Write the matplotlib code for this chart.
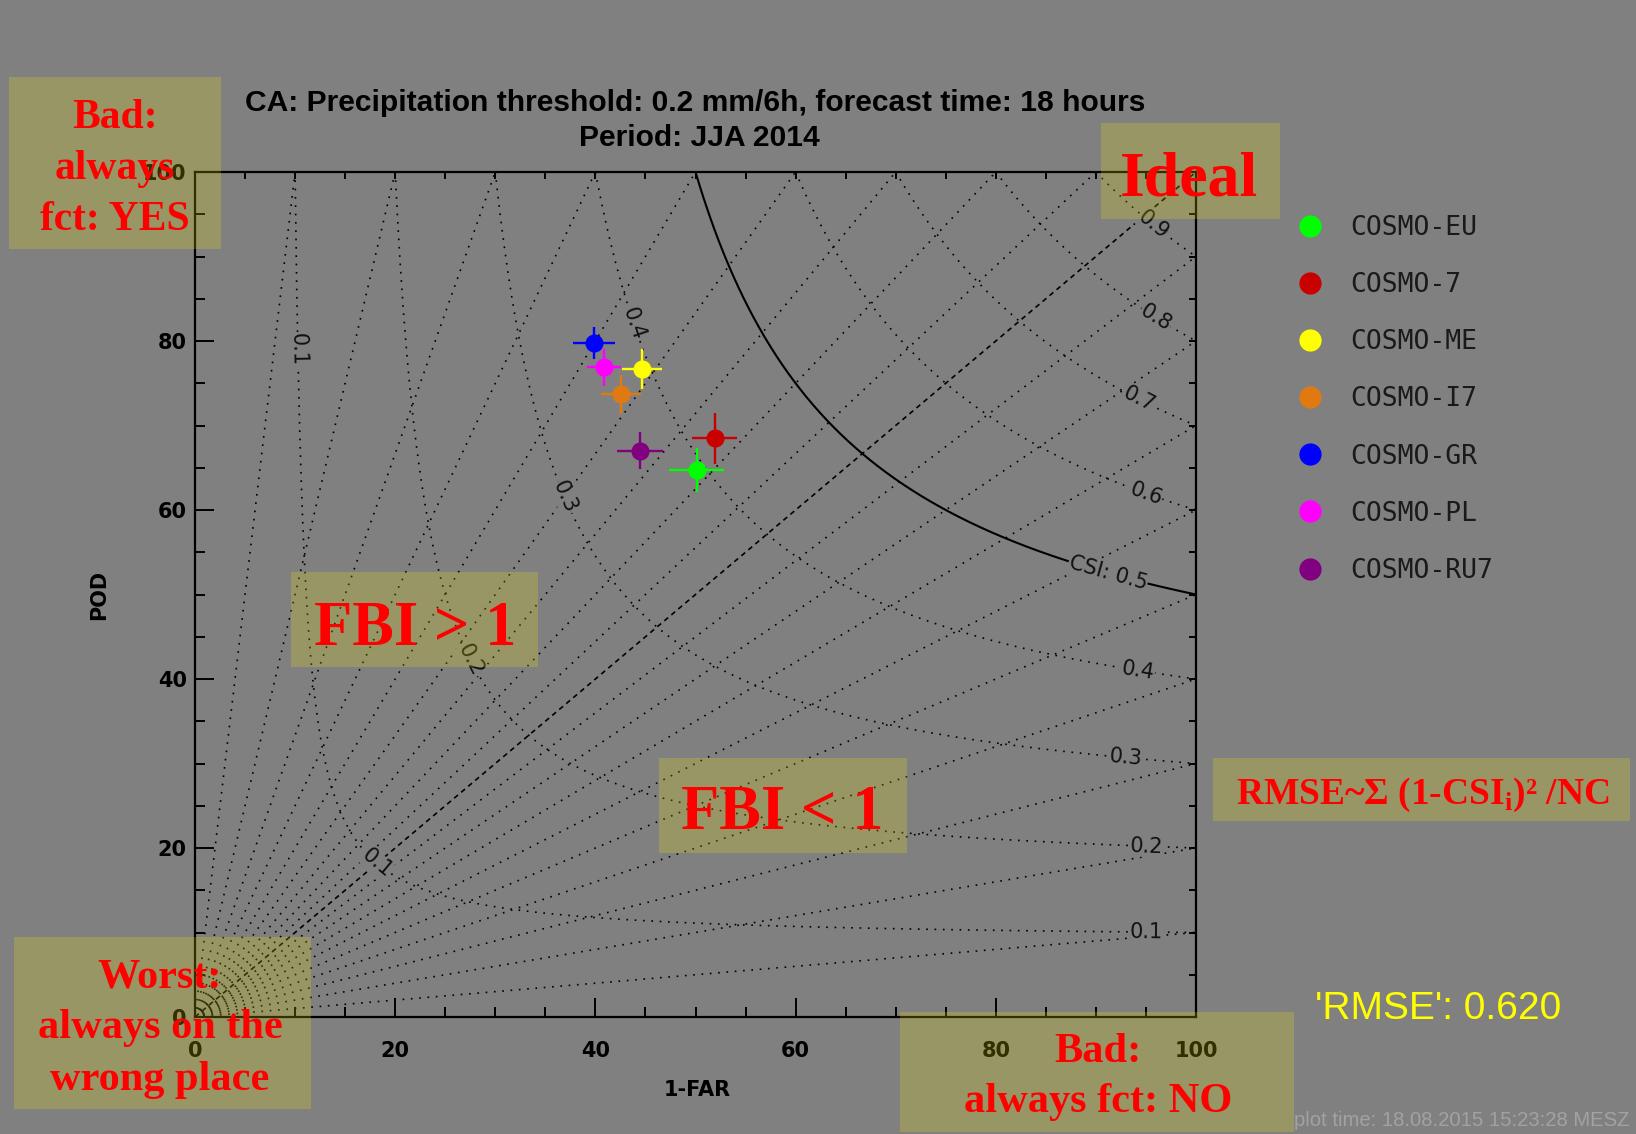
import numpy as np
import matplotlib.pyplot as plt
from matplotlib.patches import Rectangle
from matplotlib.ticker import MultipleLocator

# Model scores: success ratio (1-FAR) and POD in %, with half-widths of the error crosses
models = ['COSMO-EU', 'COSMO-7', 'COSMO-ME', 'COSMO-I7', 'COSMO-GR', 'COSMO-PL', 'COSMO-RU7']
colors = ['#00ff00', '#c80000', '#ffff00', '#e07a10', '#0000ff', '#ff00ff', '#800080']
sr = [50.1, 51.9, 44.7, 42.6, 39.9, 40.9, 44.5]
pod = [64.7, 68.5, 76.7, 73.7, 79.8, 76.9, 67.0]
sr_err = [2.7, 2.2, 2.0, 2.0, 2.1, 1.7, 2.3]
pod_err = [2.6, 3.0, 2.4, 2.3, 1.9, 2.2, 2.2]
rmse = 0.620

csi_levels = [0.1, 0.2, 0.3, 0.4, 0.5, 0.6, 0.7, 0.8, 0.9]
fbi_levels = [0.1, 0.2, 0.3, 0.4, 0.5, 0.6, 0.7, 0.8, 0.9, 1,
              10 / 9, 10 / 8, 10 / 7, 10 / 6, 10 / 5, 10 / 4, 10 / 3, 10 / 2, 10]
# where the CSI isolines get their labels (left ones by POD, right ones by 1-FAR)
csi_labels_pod = [(0.1, 0.79), (0.1, 0.182), (0.2, 0.422), (0.3, 0.615), (0.4, 0.82)]
csi_labels_sr = [(0.9, 0.957), (0.8, 0.96), (0.7, 0.943), (0.6, 0.95), (0.5, 0.912),
                 (0.4, 0.942), (0.3, 0.93), (0.2, 0.95), (0.1, 0.95)]

BG = '#808080'
W, H = 1636, 1134

fig = plt.figure(figsize=(W / 100, H / 100), dpi=100, facecolor=BG)
ax = fig.add_axes([195 / W, (H - 1017) / H, 1001 / W, 845 / H])
ax.set_facecolor(BG)
ax.set_xlim(0, 100)
ax.set_ylim(0, 100)

dots = (0, (1, 4))


def csi_other(c, v):
    # CSI = 1 / (1/SR + 1/POD - 1) is symmetric, so this works both ways
    return 1 / (1 / c + 1 - 1 / v)


# CSI isolines
for c in csi_levels:
    s = np.linspace(c, 1, 600)
    p = csi_other(c, s)
    if c == 0.5:
        ax.plot(100 * s, 100 * p, color='k', lw=1.5, zorder=2)
    else:
        ax.plot(100 * s, 100 * p, color='k', lw=1.2, ls=dots, zorder=2)

# frequency bias lines from the origin
for f in fbi_levels:
    xe = 100 * min(1, 1 / f)
    ye = 100 * min(1, f)
    ls = (0, (3, 2.5)) if f == 1 else dots
    ax.plot([0, xe], [0, ye], color='k', lw=1.2, ls=ls, zorder=2)


def label_csi(c, s, text):
    p = csi_other(c, s)
    s2 = s + 0.001
    p2 = csi_other(c, s2)
    (x1, y1), (x2, y2) = ax.transData.transform([[100 * s, 100 * p], [100 * s2, 100 * p2]])
    ang = np.degrees(np.arctan2(y2 - y1, x2 - x1))
    ax.text(100 * s, 100 * p, text, rotation=ang, rotation_mode='anchor',
            ha='center', va='center', fontsize=15, color='#111111', zorder=3,
            bbox=dict(fc=BG, ec='none', pad=0.5))


for c, p in csi_labels_pod:
    label_csi(c, csi_other(c, p), f'{c:.1f}')
for c, s in csi_labels_sr:
    label_csi(c, s, f'CSI: {c:.1f}' if c == 0.5 else f'{c:.1f}')

# model scores with error crosses
handles = []
for name, col, x, y, xe, ye in zip(models, colors, sr, pod, sr_err, pod_err):
    ax.errorbar(x, y, xerr=xe, yerr=ye, fmt='none', ecolor=col, elinewidth=1.7,
                capsize=0, zorder=4)
    h, = ax.plot(x, y, 'o', ms=13, color=col, mec='none', label=name, zorder=5)
    handles.append(h)

# axes styling
for sp in ax.spines.values():
    sp.set_linewidth(1.6)
ax.xaxis.set_major_locator(MultipleLocator(20))
ax.xaxis.set_minor_locator(MultipleLocator(5))
ax.yaxis.set_major_locator(MultipleLocator(20))
ax.yaxis.set_minor_locator(MultipleLocator(5))
ax.tick_params(which='both', direction='in', top=True, right=True, width=1.4, colors='k')
ax.tick_params(which='major', length=14, labelsize=15)
ax.tick_params(which='minor', length=7)
ax.tick_params(axis='x', pad=17)
ax.tick_params(axis='y', pad=6)
for t in (ax.xaxis.get_major_ticks() + ax.xaxis.get_minor_ticks()
          + ax.yaxis.get_major_ticks() + ax.yaxis.get_minor_ticks()):
    t.tick2line.set_markersize(5)
plt.setp(ax.get_xticklabels() + ax.get_yticklabels(), fontweight='bold')

ax.set_xlabel('1-FAR', fontsize=15, fontweight='bold')
ax.set_ylabel('POD', fontsize=15, fontweight='bold')
ax.xaxis.set_label_coords(0.5015, -0.075)
ax.yaxis.set_label_coords(-0.086, 0.5)

fig.text(695 / W, 1 - 103 / H, 'CA: Precipitation threshold: 0.2 mm/6h, forecast time: 18 hours',
         ha='center', va='center', fontsize=21.6, fontweight='bold', family='Liberation Sans')
fig.text(699 / W, 1 - 138 / H, 'Period: JJA 2014',
         ha='center', va='center', fontsize=21.6, fontweight='bold', family='Liberation Sans')

leg_handles = [plt.Line2D([], [], ls='none', marker='o', ms=16, color=h.get_color(), mec='none')
               for h in handles]
fig.legend(leg_handles, models, loc='upper left', bbox_to_anchor=(1297 / W, 1 - 215 / H),
           frameon=False, borderpad=0, borderaxespad=0, handlelength=1.0,
           handletextpad=1.0, labelspacing=1.18, labelcolor='#1a1a1a',
           prop=dict(family='DejaVu Sans Mono', size=19))

fig.text(1438 / W, 1 - 1019 / H, f"'RMSE': {rmse:.3f}", ha='center', va='baseline',
         fontsize=28, color='#ffff00', family='Liberation Sans')
fig.text(1294 / W, 1 - 1120 / H, 'plot time: 18.08.2015 15:23:28 MESZ', ha='left',
         va='center', fontsize=14.6, color='#a2a2a2', family='Liberation Sans')


# translucent note boxes with red annotations (pixel coords, origin top-left)
def note_box(x0, y0, x1, y1):
    fig.add_artist(Rectangle((x0 / W, 1 - y1 / H), (x1 - x0) / W, (y1 - y0) / H,
                             transform=fig.transFigure, fc='#fff000', ec='none',
                             alpha=0.2, zorder=10))


def note_text(x, y, text, size):
    fig.text(x / W, 1 - y / H, text, ha='center', va='baseline', fontsize=size,
             color='#ff0000', family='Liberation Serif', fontweight='bold', zorder=11)


note_box(9, 77, 221, 249)
for yb, line in zip([128, 179, 230], ['Bad:', 'always', 'fct: YES']):
    note_text(115, yb, line, 30)

note_box(1101, 123, 1280, 219)
note_text(1189, 196, 'Ideal', 46)

note_box(291, 572, 538, 667)
note_text(415, 645, 'FBI > 1', 45)

note_box(659, 758, 907, 853)
note_text(782, 829, 'FBI < 1', 45)

note_box(1213, 758, 1630, 821)
note_text(1423, 804, r'RMSE~Σ (1-CSI$_\mathregular{i}$)² /NC', 27)

note_box(14, 937, 311, 1109)
for yb, line in zip([987, 1038, 1090], ['Worst:', 'always on the', 'wrong place']):
    note_text(160, yb, line, 30.5)

note_box(900, 1012, 1294, 1132)
for yb, line in zip([1062, 1112], ['Bad:', 'always fct: NO']):
    note_text(1098, yb, line, 30.5)

fig.savefig('out.png', dpi=100, facecolor=BG)
